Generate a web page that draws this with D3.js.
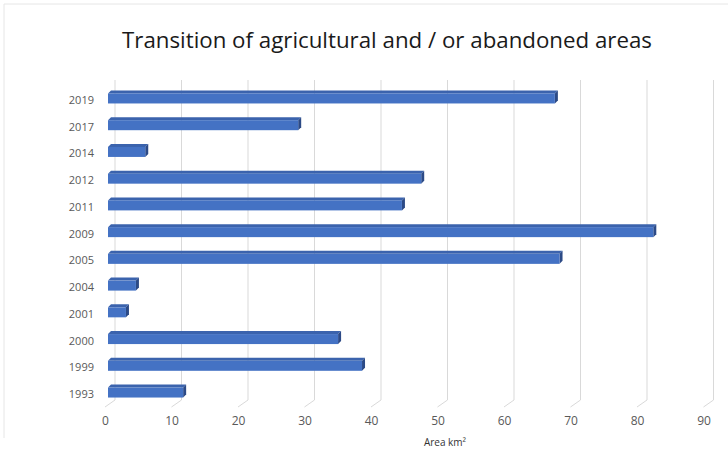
<!DOCTYPE html>
<html>
<head>
<meta charset="utf-8">
<script src="https://cdn.jsdelivr.net/npm/d3@7"></script>
<style>
  body { margin: 0; background: #fff; }
  text { font-family: "Open Sans", "Noto Sans", sans-serif; }
</style>
</head>
<body>
<div id="chart"></div>
<script>
const width = 728;
const height = 451;

// data (top to bottom)
const years = ["2019", "2017", "2014", "2012", "2011", "2009", "2005", "2004", "2001", "2000", "1999", "1993"];
const areas = [67.2, 28.6, 5.6, 47.1, 44.2, 82, 67.9, 4.2, 2.7, 34.6, 38.2, 11.3];
const xTicks = [0, 10, 20, 30, 40, 50, 60, 70, 80, 90];

const data = years.map((y, i) => ({ year: y, value: areas[i] }));

const svg = d3.select("#chart")
  .append("svg")
  .attr("width", width)
  .attr("height", height)

// faint frame of the original screenshot
svg.append("line")
  .attr("x1", 4).attr("x2", width).attr("y1", 4).attr("y2", 4)
  .style("stroke", "#e6e6e6")
svg.append("line")
  .attr("x1", 4).attr("x2", 4).attr("y1", 4).attr("y2", 438)
  .style("stroke", "#e6e6e6")

// back wall scale (gridlines) and front scale (bars)
const xBack = d3.scaleLinear().domain([0, 90]).range([115, 713.5]);
const xFront = d3.scaleLinear().domain([0, 90]).range([108, 706.5]);
const y = d3.scalePoint().domain(years).range([83.6, 404.4]).padding(0.5);

const wallTop = 80, wallBottom = 400;
const floorDx = -10, floorDy = 7;

// gridlines + floor diagonals
const grid = svg.append("g")
grid.selectAll(".grid")
  .data(xTicks)
  .join("line")
    .attr("x1", d => xBack(d))
    .attr("x2", d => xBack(d))
    .attr("y1", wallTop)
    .attr("y2", wallBottom)
    .style("stroke", "#d9d9d9")
grid.selectAll(".floor")
  .data(xTicks)
  .join("line")
    .attr("x1", d => xBack(d))
    .attr("x2", d => xBack(d) + floorDx)
    .attr("y1", wallBottom)
    .attr("y2", wallBottom + floorDy)
    .style("stroke", "#d9d9d9")

// x tick labels
svg.selectAll(".xlab")
  .data(xTicks)
  .join("text")
    .attr("x", d => xBack(d) + floorDx + 0.5)
    .attr("y", 425)
    .attr("text-anchor", "middle")
    .style("font-size", "12px")
    .style("fill", "#595959")
    .text(d => d)

// y labels
svg.selectAll(".ylab")
  .data(years)
  .join("text")
    .attr("x", 94)
    .attr("y", d => y(d) + 7)
    .attr("text-anchor", "end")
    .style("font-size", "11px")
    .style("fill", "#595959")
    .text(d => d)

// 3d bars
const depth = 3;
const faceH = 10;
const bars = svg.selectAll(".bar")
  .data(data)
  .join("g")

bars.append("path")   // top face
  .attr("d", d => {
    const x0 = xFront(0), x1 = xFront(d.value), yy = y(d.year) - 3.5;
    return `M${x0},${yy}L${x0 + depth},${yy - depth}L${x1 + depth},${yy - depth}L${x1},${yy}Z`;
  })
  .style("fill", "#3b63ad")

bars.append("path")   // side face
  .attr("d", d => {
    const x1 = xFront(d.value), yy = y(d.year) - 3.5;
    return `M${x1},${yy}L${x1 + depth},${yy - depth}L${x1 + depth},${yy - depth + faceH}L${x1},${yy + faceH}Z`;
  })
  .style("fill", "#2c4a86")

bars.append("rect")   // front face
  .attr("x", xFront(0))
  .attr("y", d => y(d.year) - 3.5)
  .attr("width", d => xFront(d.value) - xFront(0))
  .attr("height", faceH)
  .style("fill", "#4472c4")

// title
svg.append("text")
  .attr("x", 387)
  .attr("y", 48)
  .attr("text-anchor", "middle")
  .attr("textLength", 530)
  .attr("lengthAdjust", "spacingAndGlyphs")
  .style("font-size", "22px")
  .style("fill", "#1a1a1a")
  .text("Transition of agricultural and / or abandoned areas")

// axis title
svg.append("text")
  .attr("x", 445)
  .attr("y", 446)
  .attr("text-anchor", "middle")
  .style("font-size", "10px")
  .style("fill", "#333")
  .text("Area km²")
</script>
</body>
</html>
